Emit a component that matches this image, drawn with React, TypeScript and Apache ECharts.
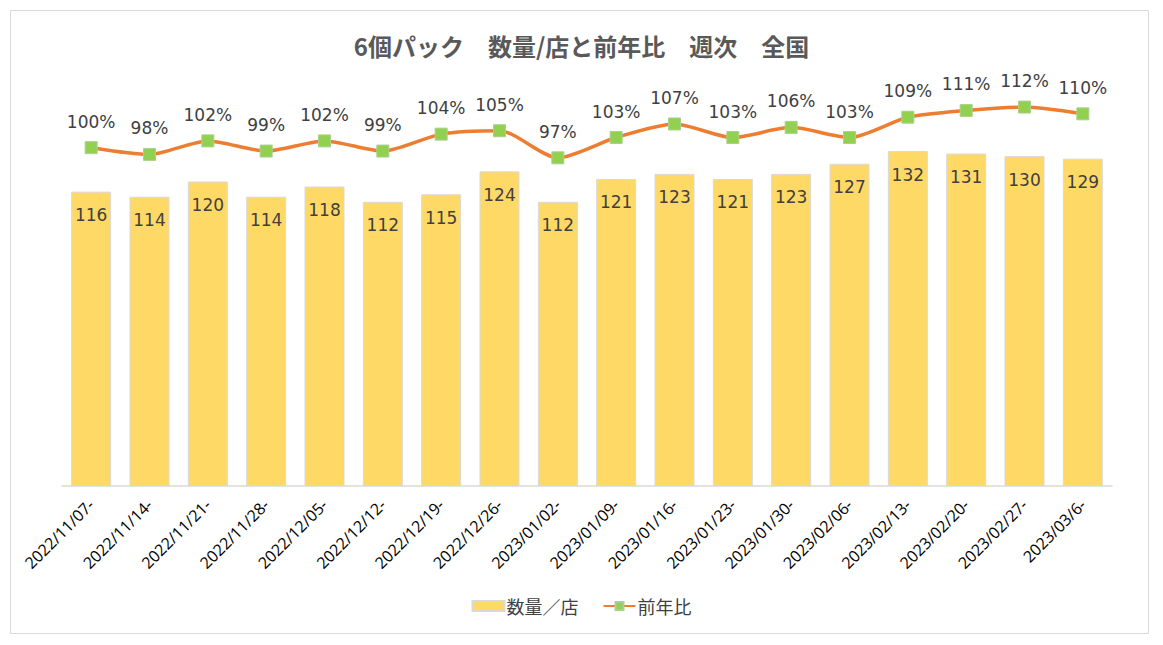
import React, { useEffect, useRef } from "react";
import * as echarts from "echarts";

const categories = [
  "2022/11/07-", "2022/11/14-", "2022/11/21-", "2022/11/28-", "2022/12/05-", "2022/12/12-",
  "2022/12/19-", "2022/12/26-", "2023/01/02-", "2023/01/09-", "2023/01/16-", "2023/01/23-",
  "2023/01/30-", "2023/02/06-", "2023/02/13-", "2023/02/20-", "2023/02/27-", "2023/03/6-",
];
const quantityPerStore = [116, 114, 120, 114, 118, 112, 115, 124, 112, 121, 123, 121, 123, 127, 132, 131, 130, 129];
const yoyPercent = [100, 98, 102, 99, 102, 99, 104, 105, 97, 103, 107, 103, 106, 103, 109, 111, 112, 110];

const FONT = "'DejaVu Sans', 'Noto Sans CJK JP', sans-serif";

export default function App() {
  const ref = useRef<HTMLDivElement>(null);
  useEffect(() => {
    if (!ref.current) return;
    const chart = echarts.init(ref.current, null, { renderer: "svg" });
    chart.setOption({
      animation: false,
      backgroundColor: "#ffffff",
      textStyle: { fontFamily: FONT },
      title: {
        text: "6個パック　数量/店と前年比　週次　全国",
        left: "center",
        top: 28,
        textStyle: { fontSize: 24, fontWeight: "bold", color: "#595959", fontFamily: "'Noto Sans CJK JP', sans-serif" },
      },
      graphic: [
        {
          type: "rect",
          shape: { x: 10.5, y: 10.5, width: 1138, height: 623 },
          style: { fill: "none", stroke: "#D9D9D9", lineWidth: 1 },
          silent: true,
        },
      ],
      legend: {
        bottom: 25,
        left: "center",
        itemGap: 24,
        itemWidth: 32,
        itemHeight: 10,
        textStyle: { fontSize: 18, color: "#404040", fontFamily: "'Noto Sans CJK JP', sans-serif", padding: [0, 0, 0, -3] },
        data: [
          { name: "数量／店", icon: "rect" },
          { name: "前年比" },
        ],
      },
      grid: { left: 62, right: 51, top: 80, bottom: 159, containLabel: false },
      xAxis: {
        type: "category",
        data: categories,
        axisLine: { show: true, lineStyle: { color: "#D9D9D9", width: 1.5 } },
        axisTick: { show: false },
        axisLabel: {
          rotate: 45,
          interval: 0,
          fontSize: 16,
          color: "#000000",
          fontFamily: "'Open Sans', sans-serif",
          margin: 16,
        },
      },
      yAxis: [
        { type: "value", min: 0, max: 160, show: false, splitLine: { show: false } },
        { type: "value", min: 0, max: 120, show: false, splitLine: { show: false } },
      ],
      series: [
        {
          name: "数量／店",
          type: "bar",
          data: quantityPerStore,
          barWidth: 40,
          yAxisIndex: 0,
          itemStyle: { color: "#FFD966", borderColor: "#D9D9D9", borderWidth: 1 },
          label: {
            show: true,
            position: "insideTop",
            distance: 15,
            fontSize: 17,
            color: "#404040",
            fontFamily: FONT,
          },
        },
        {
          name: "前年比",
          type: "line",
          data: yoyPercent,
          yAxisIndex: 1,
          smooth: 0.25,
          symbol: "rect",
          symbolSize: 12,
          lineStyle: { color: "#ED7D31", width: 3.5 },
          itemStyle: { color: "#92D050", borderColor: "#A9D18E", borderWidth: 1 },
          label: {
            show: true,
            position: "top",
            distance: 11,
            fontSize: 17,
            color: "#404040",
            fontFamily: FONT,
            formatter: (p: any) => `${p.value}%`,
          },
          z: 5,
        },
      ],
    });
    return () => chart.dispose();
  }, []);
  return (
    <div
      ref={ref}
      style={{ position: "fixed", left: 0, top: 0, width: 1163, height: 645 }}
    />
  );
}
